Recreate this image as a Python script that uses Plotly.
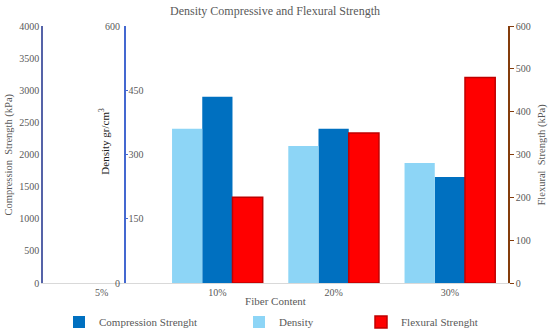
import plotly.graph_objects as go

categories = ["5%", "10%", "20%", "30%"]
density = [None, 360, 320, 280]
compression = [None, 2900, 2400, 1650]
flexural = [None, 200, 350, 480]
compression_ticks = [0, 500, 1000, 1500, 2000, 2500, 3000, 3500, 4000]
density_ticks = [150, 300, 450]
flexural_ticks = [0, 100, 200, 300, 400, 500, 600]

FONT = "Liberation Serif"
GREY = "#595959"

fig = go.Figure()
fig.add_trace(go.Bar(
    x=categories, y=density, name="Density", yaxis="y2", offsetgroup="1",
    marker=dict(color="#8DD5F6", line=dict(width=0)), legend="legend2", showlegend=True,
))
fig.add_trace(go.Bar(
    x=categories, y=compression, name="Compression Strenght", yaxis="y", offsetgroup="2",
    marker=dict(color="#0070C0", line=dict(width=0)), legend="legend", showlegend=True,
))
fig.add_trace(go.Bar(
    x=categories, y=flexural, name="Flexural Strenght", yaxis="y3", offsetgroup="3",
    marker=dict(color="#FF0000", line=dict(color="#C00000", width=1.5)),
    legend="legend3", showlegend=True,
))

leg = dict(orientation="h", xref="container", yref="container", yanchor="middle",
           itemwidth=30, font=dict(family=FONT, size=11, color=GREY),
           bgcolor="rgba(0,0,0,0)")
ly = 1 - 322 / 333

fig.update_layout(
    width=550, height=333,
    margin=dict(l=43, r=42, t=26, b=50, autoexpand=False),
    paper_bgcolor="white", plot_bgcolor="white",
    showlegend=True,
    barmode="group", bargap=0.22, bargroupgap=0,
    title=dict(text="Density Compressive and Flexural Strength", x=0.5, xanchor="center",
               xref="container", yref="container",
               y=1 - 11 / 333, yanchor="middle", font=dict(family=FONT, size=12, color=GREY)),
    font=dict(family=FONT, color=GREY),
    xaxis=dict(
        type="category", categoryorder="array", categoryarray=categories,
        range=[-0.5, 3.5], automargin=False,
        showline=True, linecolor="#D9D9D9", linewidth=1, showgrid=False, ticks="",
        tickfont=dict(family=FONT, size=10, color=GREY),
        title=dict(text="Fiber Content", font=dict(family=FONT, size=11, color=GREY), standoff=10),
    ),
    yaxis=dict(
        range=[0, 4000], tickvals=compression_ticks, showgrid=False, zeroline=False,
        automargin=False,
        showline=True, linecolor="#5563A8", linewidth=1.5, ticks="",
        tickfont=dict(family=FONT, size=10, color=GREY),
    ),
    yaxis2=dict(
        range=[0, 600], tickvals=density_ticks, showgrid=False, zeroline=False,
        overlaying="y", anchor="free", position=0.176, side="left", automargin=False,
        showline=True, linecolor="#4468D0", linewidth=1.5,
        ticks="inside", ticklen=2, tickcolor="#4468D0",
        ticklabelposition="inside",
        tickfont=dict(family=FONT, size=10, color=GREY),
    ),
    yaxis3=dict(
        range=[0, 600], tickvals=flexural_ticks, showgrid=False, zeroline=False,
        overlaying="y", anchor="x", side="right", automargin=False,
        showline=True, linecolor="#843C0C", linewidth=1.5,
        ticks="outside", ticklen=4, tickcolor="#843C0C",
        tickfont=dict(family=FONT, size=10, color=GREY),
    ),
    legend=dict(leg, x=(85 - 26) / 550, y=ly),
    legend2=dict(leg, x=(265 - 26) / 550, y=ly),
    legend3=dict(leg, x=(387 - 26) / 550, y=ly),
)

# axis titles and end labels of the density axis
fig.add_annotation(text="Compression  Strength (kPa)", textangle=-90,
                   xref="paper", x=-(43 - 8) / 465, xanchor="center",
                   yref="paper", y=0.5, yanchor="middle",
                   showarrow=False, font=dict(family=FONT, size=10.5, color=GREY))
fig.add_annotation(text="Density gr/cm<sup>3</sup>", textangle=-90,
                   xref="paper", x=(104 - 43) / 465, xanchor="center",
                   yref="paper", y=0.55, yanchor="middle",
                   showarrow=False, font=dict(family=FONT, size=11, color="#222222"))
fig.add_annotation(text="Flexural  Strength (kPa)", textangle=-90,
                   xref="paper", x=(541 - 43) / 465, xanchor="center",
                   yref="paper", y=0.5, yanchor="middle",
                   showarrow=False, font=dict(family=FONT, size=10.5, color=GREY))
for v in [0, 600]:
    fig.add_annotation(text=str(v), xref="paper", x=0.176, xanchor="right", xshift=-3,
                       yref="y2", y=v, showarrow=False,
                       font=dict(family=FONT, size=10, color=GREY))
# the first category label (hidden by the free axis otherwise)
fig.add_annotation(text=categories[0], xref="x", x=categories[0], yref="paper", y=0,
                   yanchor="top", yshift=-2, showarrow=False,
                   font=dict(family=FONT, size=10, color=GREY))

fig.write_html("out.html", config={"displayModeBar": False},
               post_script="document.body.style.margin='0';")
